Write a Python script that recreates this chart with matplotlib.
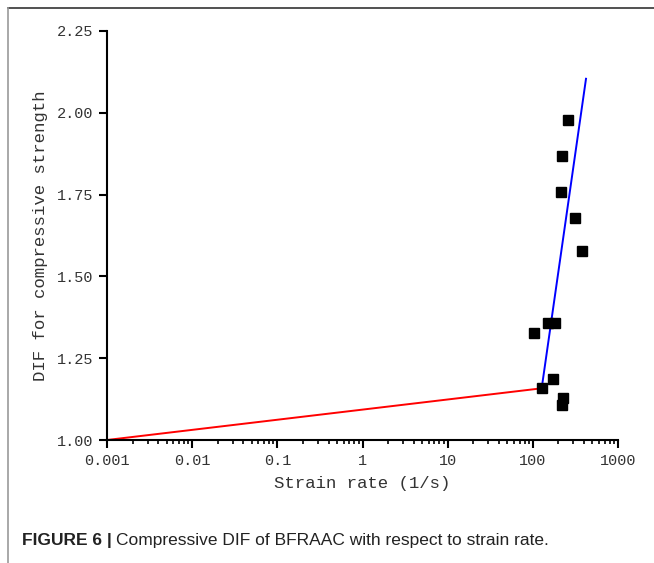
"""Compressive DIF of BFRAAC vs strain rate"""
import matplotlib
matplotlib.use('Agg')
import matplotlib.pyplot as plt
from matplotlib.lines import Line2D
import numpy as np

# test points
strain_rate = [259, 218, 216, 313, 375, 149, 184, 104, 174, 127, 224, 218]
dif = [1.979, 1.867, 1.757, 1.678, 1.577, 1.359, 1.359, 1.326, 1.187, 1.158, 1.127, 1.107]

# fitted lines (end points)
red_x = [0.001, 127]
red_y = [1.0, 1.158]
blue_x = [127, 421]
blue_y = [1.158, 2.104]

yticks = [1.00, 1.25, 1.50, 1.75, 2.00, 2.25]
xticks = [0.001, 0.01, 0.1, 1, 10, 100, 1000]
xticklabels = ['0.001', '0.01', '0.1', '1', '10', '100', '1000']

MONO = 'Liberation Mono'

fig = plt.figure(figsize=(6.54, 5.63), dpi=100)
fig.patch.set_facecolor('white')
ax = fig.add_axes([107/654, 1-440/563, 511/654, 409/563])

ax.plot(red_x, red_y, color='#FF0000', lw=1.4, zorder=2)
ax.plot(blue_x, blue_y, color='#0000FF', lw=1.4, zorder=2)
ax.plot(strain_rate, dif, ls='none', marker='s', ms=7, color='black', zorder=3)

ax.set_xscale('log')
ax.set_xlim(0.001, 1000)
ax.set_ylim(1.0, 2.25)
ax.set_xticks(xticks)
ax.set_xticklabels(xticklabels, family=MONO, fontsize=11)
ax.set_yticks(yticks)
ax.set_yticklabels(['%.2f' % v for v in yticks], family=MONO, fontsize=11)
ax.xaxis.set_minor_locator(matplotlib.ticker.LogLocator(base=10, subs=np.arange(2, 10)))
ax.xaxis.set_minor_formatter(matplotlib.ticker.NullFormatter())

for s in ['top', 'right']:
    ax.spines[s].set_visible(False)
for s in ['left', 'bottom']:
    ax.spines[s].set_linewidth(1.5)
ax.tick_params(axis='both', which='major', direction='out', length=6, width=1.5,
               color='black', labelcolor='#333333', pad=4)
ax.tick_params(axis='x', which='minor', direction='out', length=3, width=1.2)

ax.set_xlabel('Strain rate (1/s)', family=MONO, fontsize=12.5, color='#333333', labelpad=6)
ax.set_ylabel('DIF for compressive strength', family=MONO, fontsize=12.5,
              color='#333333', labelpad=6)

# page frame
fig.add_artist(Line2D([8/654, 1], [1-8/563, 1-8/563], color='#333333', lw=1.2,
                      transform=fig.transFigure))
fig.add_artist(Line2D([8/654, 8/654], [0, 1-8/563], color='#999999', lw=1.2,
                      transform=fig.transFigure))

# caption
cap = fig.text(22/654, 1-541/563, 'FIGURE 6 |', family='Liberation Sans',
               fontsize=12.5, fontweight='bold', color='#222222', va='center')
fig.canvas.draw()
bb = cap.get_window_extent()
fig.text((bb.x1 + 4)/654, 1-541/563, 'Compressive DIF of BFRAAC with respect to strain rate.',
         family='Liberation Sans', fontsize=12.5, color='#222222', va='center')

fig.savefig('out.png', dpi=100, facecolor='white')
